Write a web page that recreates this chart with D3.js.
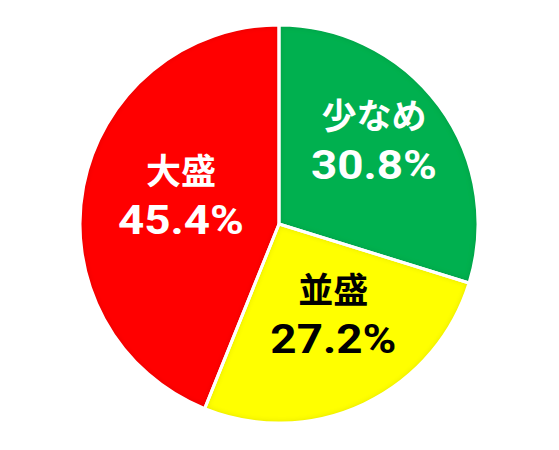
<!DOCTYPE html>
<html>
<head>
<meta charset="utf-8">
<script src="https://cdn.jsdelivr.net/npm/d3@7"></script>
<style>
body { margin: 0; background: #fff; }
</style>
</head>
<body>
<script>
var width = 559;
var height = 450;

var categories = ["少なめ", "並盛", "大盛"];
var values = [30.8, 27.2, 45.4];
var colors = ["#00B050", "#FFFF00", "#FF0000"];
var textColors = ["#ffffff", "#000000", "#ffffff"];

var cx = 279, cy = 224, radius = 199;

var svg = d3.select("body").append("svg").attr("width", width).attr("height", height);

// inner shadow that darkens the rim of each slice
var defs = svg.append("defs");
var filter = defs.append("filter").attr("id", "inner")
    .attr("x", "-10%").attr("y", "-10%").attr("width", "120%").attr("height", "120%");
filter.append("feComponentTransfer").attr("in", "SourceAlpha").attr("result", "inv")
    .append("feFuncA").attr("type", "table").attr("tableValues", "1 0");
filter.append("feGaussianBlur").attr("in", "inv").attr("stdDeviation", 3).attr("result", "blur");
filter.append("feFlood").attr("flood-color", "#000").attr("flood-opacity", 0.35).attr("result", "col");
filter.append("feComposite").attr("in", "col").attr("in2", "blur").attr("operator", "in").attr("result", "shadow");
filter.append("feComposite").attr("in", "shadow").attr("in2", "SourceAlpha").attr("operator", "in").attr("result", "shadowIn");
var merge = filter.append("feMerge");
merge.append("feMergeNode").attr("in", "SourceGraphic");
merge.append("feMergeNode").attr("in", "shadowIn");

var pie = d3.pie().sort(null).value(function (d) { return d; });
var arcs = pie(values);
var arc = d3.arc().innerRadius(0).outerRadius(radius);
var labelArc = d3.arc().innerRadius(108).outerRadius(108);

var g = svg.append("g").attr("transform", "translate(" + cx + "," + cy + ")");

g.selectAll("path.slice")
    .data(arcs)
    .enter()
    .append("path")
    .attr("class", "slice")
    .attr("d", arc)
    .attr("fill", function (d, i) { return colors[i]; })
    .attr("filter", "url(#inner)");

g.selectAll("path.edge")
    .data(arcs)
    .enter()
    .append("path")
    .attr("class", "edge")
    .attr("d", arc)
    .attr("fill", "none")
    .attr("stroke", "#ffffff")
    .attr("stroke-width", 3)
    .attr("stroke-linejoin", "round");

var nudge = [[8, -19], [8, -7], [8, -7]];

var labels = g.selectAll("g.label")
    .data(arcs)
    .enter()
    .append("g")
    .attr("class", "label")
    .attr("transform", function (d, i) {
        var c = labelArc.centroid(d);
        return "translate(" + (c[0] + nudge[i][0]) + "," + (c[1] + nudge[i][1]) + ")";
    })
    .style("font-weight", "bold")
    .attr("fill", function (d, i) { return textColors[i]; })
    .attr("text-anchor", "middle");

labels.append("text")
    .attr("y", -12)
    .style("font-family", "'Noto Sans CJK JP', sans-serif")
    .style("font-size", "35px")
    .text(function (d, i) { return categories[i]; });

labels.append("text")
    .attr("y", 38)
    .attr("textLength", 126)
    .attr("lengthAdjust", "spacingAndGlyphs")
    .style("font-family", "Roboto, sans-serif")
    .style("font-size", "41px")
    .text(function (d, i) { return values[i].toFixed(1) + "%"; });
</script>
</body>
</html>
